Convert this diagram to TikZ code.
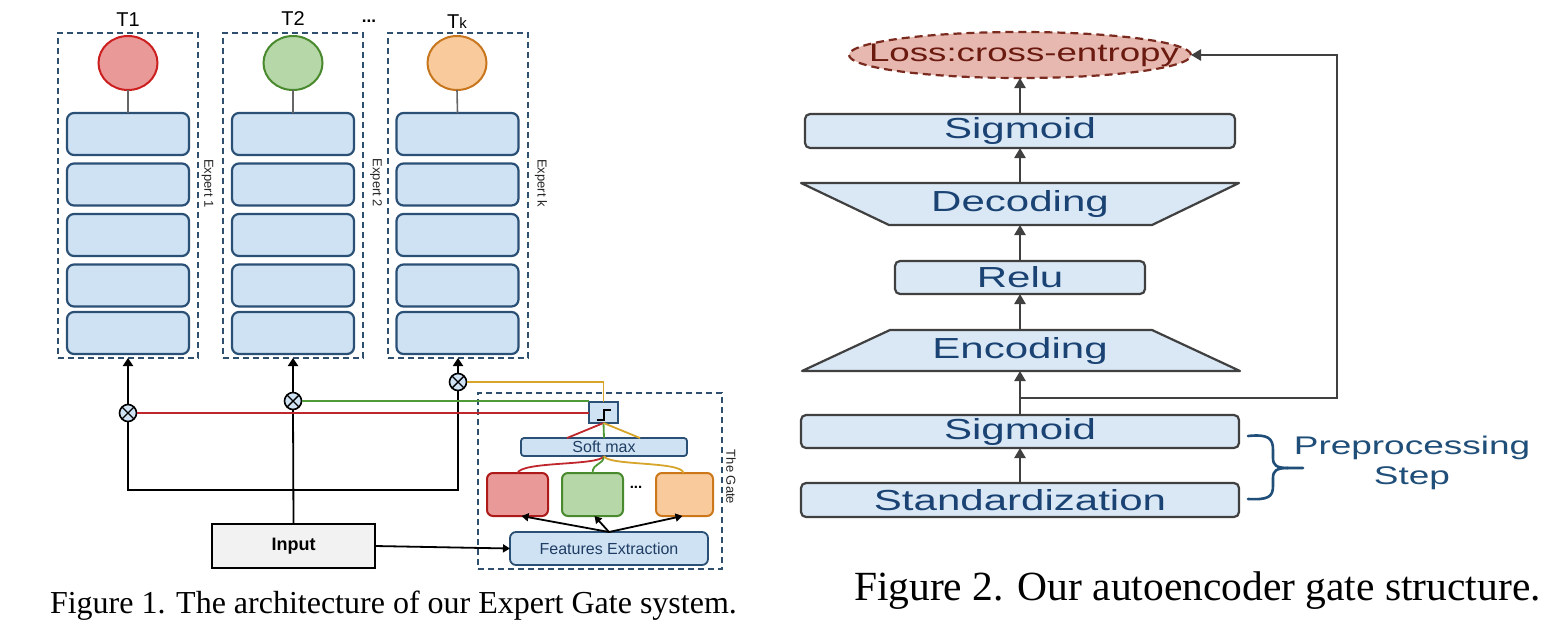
\documentclass[tikz,border=0pt]{standalone}
\usepackage{fontspec}
\setmainfont{Liberation Sans}
\newfontfamily\capserif{Liberation Serif}
\usetikzlibrary{arrows.meta,shapes.geometric,calc}
\newcommand{\wx}[1]{\scalebox{1.45}[1]{#1}}
\newcommand{\setfs}[1]{\fontsize{#1}{#1}\selectfont}
\definecolor{rectfill}{HTML}{CFE2F3}
\definecolor{rectline}{HTML}{2B5075}
\definecolor{dashblue}{HTML}{2F4F6F}
\definecolor{redfill}{HTML}{EA9999}
\definecolor{redline}{HTML}{CC1F1F}
\definecolor{greenfill}{HTML}{B6D7A8}
\definecolor{greenline}{HTML}{4A8A2E}
\definecolor{orfill}{HTML}{F9CB9C}
\definecolor{orline}{HTML}{C8761E}
\definecolor{wred}{HTML}{C0272D}
\definecolor{wgreen}{HTML}{4F9A37}
\definecolor{wyellow}{HTML}{D6A52A}
\definecolor{txtblue}{HTML}{1F3D63}
\definecolor{f2fill}{HTML}{DAE8F5}
\definecolor{f2border}{HTML}{404040}
\definecolor{f2text}{HTML}{1A4374}
\definecolor{lossfill}{HTML}{E6B8AF}
\definecolor{lossline}{HTML}{7A2A1E}
\definecolor{losstext}{HTML}{6B1A10}
\definecolor{bracecol}{HTML}{1F4E79}
\tikzset{
  every node/.style={inner sep=0pt, outer sep=0pt},
  exbox/.style={draw=dashblue, dash pattern=on 6pt off 4pt, line width=1.8pt, minimum width=140pt, minimum height=325pt},
  layer/.style={draw=rectline, fill=rectfill, rounded corners=7pt, line width=2.2pt, minimum width=122pt, minimum height=42pt},
  head/.style={ellipse, line width=2pt, minimum width=59pt, minimum height=54pt},
  otimes/.style={circle, draw=black, fill=rectfill, minimum size=17pt, line width=1.6pt,
    path picture={\draw[line width=1.4pt] (path picture bounding box.north west) -- (path picture bounding box.south east)
      (path picture bounding box.north east) -- (path picture bounding box.south west);}},
  conn/.style={draw=black, line width=1.8pt},
  arr/.style={conn, -{Triangle[width=10pt,length=8pt]}},
  sarr/.style={conn, -{Triangle[width=8pt,length=7pt]}},
  wire/.style={line width=1.8pt},
  gbox/.style={rounded corners=6pt, line width=2pt, minimum width=61pt, minimum height=43pt},
  f2box/.style={draw=f2border, fill=f2fill, rounded corners=5pt, line width=2.2pt, text=f2text, font=\setfs{29}},
  f2shape/.style={draw=f2border, fill=f2fill, line width=2.2pt, line join=round},
  f2arr/.style={draw=f2border, line width=2.4pt, -{Triangle[width=11pt,length=10pt]}}
}
\begin{document}
\begin{tikzpicture}[x=1pt,y=-1pt]
\useasboundingbox[fill=white] (0,0) rectangle (1565,629);

% ---------------- Figure 1 ----------------
% expert containers
\node[exbox] (ex1) at (128,195.5) {};
\node[exbox] (ex2) at (293,195.5) {};
\node[exbox] (ex3) at (458,195.5) {};
% task heads
\node[head, draw=redline, fill=redfill] (c1) at (128,63) {};
\node[head, draw=greenline, fill=greenfill] (c2) at (293,63) {};
\node[head, draw=orline, fill=orfill] (c3) at (457,63) {};
% titles
\node[anchor=base, font=\setfs{20}] (t1) at (128,27) {T1};
\node[anchor=base, font=\setfs{20}] (t2) at (293,25) {T2};
\node[anchor=base, font=\setfs{20}] (tk) at (457,28) {T{\setfs{15}k}};
\node[anchor=base, font=\bfseries\setfs{17}] (tdots) at (369,23) {...};
% layers
\foreach \e/\x in {1/128,2/293,3/457.5}{
  \foreach \i/\y in {1/134,2/184.5,3/235,4/285.5,5/333}{
    \node[layer] (l\e\i) at (\x,\y) {};
  }
}
\draw[draw=black!60, line width=1.6pt] (c1.south) -- (l11.north);
\draw[draw=black!60, line width=1.6pt] (c2.south) -- (l21.north);
\draw[draw=black!60, line width=1.6pt] (c3.south) -- (l31.north);
% expert labels
\node[rotate=-90, font=\setfs{13}, text=black!85] (lab1) at (207.5,183.5) {Expert 1};
\node[rotate=-90, font=\setfs{13}, text=black!85] (lab2) at (376,183) {Expert 2};
\node[rotate=-90, font=\setfs{13}, text=black!85] (lab3) at (541,183) {Expert k};

% gate
\node[exbox, minimum width=244pt, minimum height=176pt] (gate) at (600,481) {};
\node[rotate=-90, font=\setfs{13}, text=black!85] (gatelab) at (731,477) {The Gate};
\node[draw=rectline, fill=rectfill, line width=1.8pt, minimum width=29pt, minimum height=21pt] (sw) at (603.5,412.5) {};
\draw[line width=2pt, line join=miter] ($(sw.center)+(-7,7.5)$) -- ++(7,0) -- ++(0,-10) -- ++(7,0);
\node[draw=rectline, fill=rectfill, line width=1.8pt, rounded corners=3pt, minimum width=166pt, minimum height=18pt, text=txtblue, font=\setfs{16}] (sm) at (604,447) {Soft max};
\node[gbox, draw=redline!85!black, fill=redfill] (gr) at (517.5,494.5) {};
\node[gbox, draw=greenline, fill=greenfill] (gg) at (592.5,494.5) {};
\node[gbox, draw=orline!90!orange, fill=orfill, minimum width=57pt] (go) at (684.5,494.5) {};
\node[font=\bfseries\setfs{15}] (gdots) at (636,487) {...};
\node[draw=rectline, fill=rectfill, line width=1.8pt, rounded corners=6pt, minimum width=198pt, minimum height=33pt, text=txtblue, font=\setfs{16}] (fe) at (609,548.5) {Features Extraction};
\node[draw=black, fill=black!5, line width=1.6pt, minimum width=163pt, minimum height=44pt, font=\bfseries\setfs{18}] (inp) at (293.5,546) {Input};

% gate internal wiring
\draw[wire, wred] ($(sm.north)+(-37,0)$) -- (sw.south);
\draw[wire, wgreen] (sm.north) -- (sw.south);
\draw[wire, wyellow] ($(sm.north)+(36,0)$) -- (sw.south);
\draw[wire, wred] (sm.south) .. controls (600,466) and (522,461) .. (gr.north);
\draw[wire, wgreen] (sm.south) .. controls (603,466) and (593,462) .. (gg.north);
\draw[wire, wyellow] (sm.south) .. controls (607,466) and (682,461) .. ($(go.north)+(-1,0)$);
\draw[sarr] (fe.north) -- ($(gr.south)+(4,0)$);
\draw[sarr] (fe.north) -- ($(gg.south)+(2,0)$);
\draw[sarr] (fe.north) -- ($(go.south)+(-2,0)$);
\draw[sarr] (inp.east) -- (fe.west);

% multipliers
\node[otimes] (ot1) at (128,413) {};
\node[otimes] (ot2) at (293,401) {};
\node[otimes] (ot3) at (458,382) {};
\draw[arr] (ot1.north) -- (ex1.south);
\draw[arr] (ot2.north) -- (ex2.south);
\draw[arr] (ot3.north) -- (ex3.south);
\coordinate (j1) at (128,490);
\coordinate (j3) at (458,490);
\draw[conn] (ot1.south) -- (j1) -- (j3) -- (ot3.south);
\draw[conn] (inp.north) -- (ot2.south);
\coordinate (yc) at (603.5,382);
\draw[wire, wred] (ot1.east) -- (ot1.east -| sw.west);
\draw[wire, wgreen] (ot2.east) -- (ot2.east -| sw.west);
\draw[wire, wyellow] (ot3.east) -- (yc) -- (sw.north);

% caption 1
\node[anchor=base west, font=\capserif\setfs{32}] (cap1) at (50,613) {Figure 1. The architecture of our Expert Gate system.};

% ---------------- Figure 2 ----------------
\node[ellipse, draw=lossline, fill=lossfill, dash pattern=on 8pt off 5pt, line width=2.2pt, minimum width=342pt, minimum height=46pt] (loss) at (1020,55) {};
\node[text=losstext, font=\setfs{25.3}] (losst) at (1024,55) {\wx{Loss:cross-entropy}};
\node[f2box, minimum width=430pt, minimum height=34pt] (s1) at (1020,131) {\wx{Sigmoid}};
\path[f2shape] (801,183) -- (1239,183) -- (1152,225) -- (889,225) -- cycle;
\node[text=f2text, font=\setfs{29}, minimum width=263pt, minimum height=42pt] (dec) at (1020,204) {\wx{Decoding}};
\node[f2box, minimum width=250pt, minimum height=33pt] (relu) at (1020,277.5) {\wx{Relu}};
\path[f2shape] (890,330) -- (1152,330) -- (1240,371) -- (802,371) -- cycle;
\node[text=f2text, font=\setfs{29}, minimum width=262pt, minimum height=41pt] (enc) at (1020,350.5) {\wx{Encoding}};
\node[f2box, minimum width=438pt, minimum height=33pt] (s2) at (1020,431.5) {\wx{Sigmoid}};
\node[f2box, minimum width=438pt, minimum height=34pt] (std) at (1020,500) {\wx{Standardization}};

\draw[f2arr] (s1.north) -- (loss.south);
\draw[f2arr] (dec.north) -- (s1.south);
\draw[f2arr] (relu.north) -- (dec.south);
\draw[f2arr] (enc.north) -- (relu.south);
\draw[f2arr] (s2.north) -- (enc.south);
\draw[f2arr] (std.north) -- (s2.south);
\coordinate (fb) at (1020,398);
\coordinate (fbr) at (1337,398);
\coordinate (fbt) at (1337,55);
\draw[f2arr] (fb) -- (fbr) -- (fbt) -- (loss.east);

% brace
\draw[bracecol, line width=2.6pt, line cap=round]
  (1248,436) .. controls (1268,434) and (1273,438) .. (1273,450) -- (1273,458)
  .. controls (1273,465) and (1276,468) .. (1288,468) -- (1303,468);
\draw[bracecol, line width=2.6pt, line cap=round]
  (1288,468) .. controls (1276,468) and (1273,471) .. (1273,478) -- (1273,486)
  .. controls (1273,497) and (1268,500) .. (1248,499);
\node[text=bracecol, font=\setfs{25.5}, align=center] (pre) at (1412,463) {\wx{Preprocessing}\\[5pt]\wx{Step}};

% caption 2
\node[anchor=base west, font=\capserif\setfs{41.5}] (cap2) at (854,600) {Figure 2. Our autoencoder gate structure.};
\end{tikzpicture}
\end{document}
